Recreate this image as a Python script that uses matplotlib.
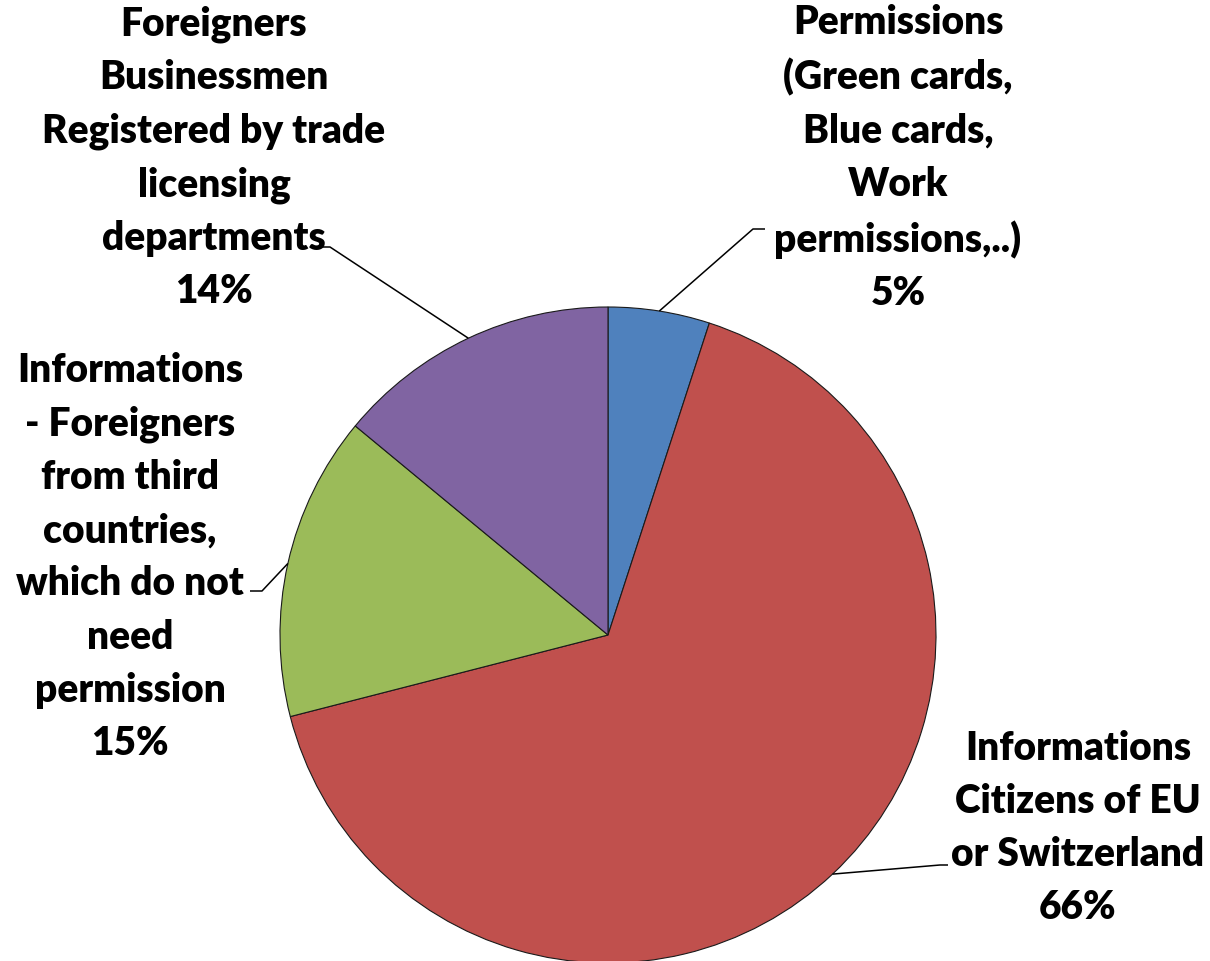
import numpy as np
import matplotlib
matplotlib.use('Agg')
import matplotlib.pyplot as plt

# slice data (clockwise from 12 o'clock)
labels = [
    "Permissions\n(Green cards,\nBlue cards,\nWork\npermissions,..)",
    "Informations\nCitizens of EU\nor Switzerland",
    "Informations\n- Foreigners\nfrom third\ncountries,\nwhich do not\nneed\npermission",
    "Foreigners\nBusinessmen\nRegistered by trade\nlicensing\ndepartments",
]
shares = [5, 66, 15, 14]
colors = ['#4F81BD', '#C0504D', '#9BBB59', '#8064A2']

W, H = 1210, 962
fig = plt.figure(figsize=(W / 100, H / 100), dpi=100)
ax = fig.add_axes([0, 0, 1, 1])

cx, cy, r = 608, H - 636, 328
wedges, _ = ax.pie(shares, colors=colors, startangle=90, counterclock=False,
                   center=(cx, cy), radius=r, frame=True,
                   wedgeprops=dict(edgecolor='#1a1a1a', linewidth=0.8))
ax.set_xlim(0, W)
ax.set_ylim(0, H)
ax.set_aspect('equal')
ax.axis('off')

# label block centres and leader elbows (image pixel coords, y down)
label_pos = [(898, 158), (1078, 828), (130, 557), (214, 158)]
elbows = [((765, 230), (753, 230)),
          ((948, 866), (940, 866)),
          ((250, 592), (262, 592)),
          ((320, 248), (330, 248))]

font = dict(family=['Lato', 'DejaVu Sans'], fontweight='heavy', fontsize=28)

for w, lab, s, (lx, ly), (p0, p1) in zip(wedges, labels, shares, label_pos, elbows):
    mid = np.deg2rad((w.theta1 + w.theta2) / 2)
    ex, ey = cx + r * np.cos(mid), cy + r * np.sin(mid)
    ax.plot([p0[0], p1[0], ex], [H - p0[1], H - p1[1], ey],
            color='black', lw=1.1, solid_capstyle='butt')
    ax.text(lx, H - ly, f"{lab}\n{s}%", ha='center', va='center',
            multialignment='center', linespacing=1.54, **font)

fig.savefig('out.png', dpi=100)
